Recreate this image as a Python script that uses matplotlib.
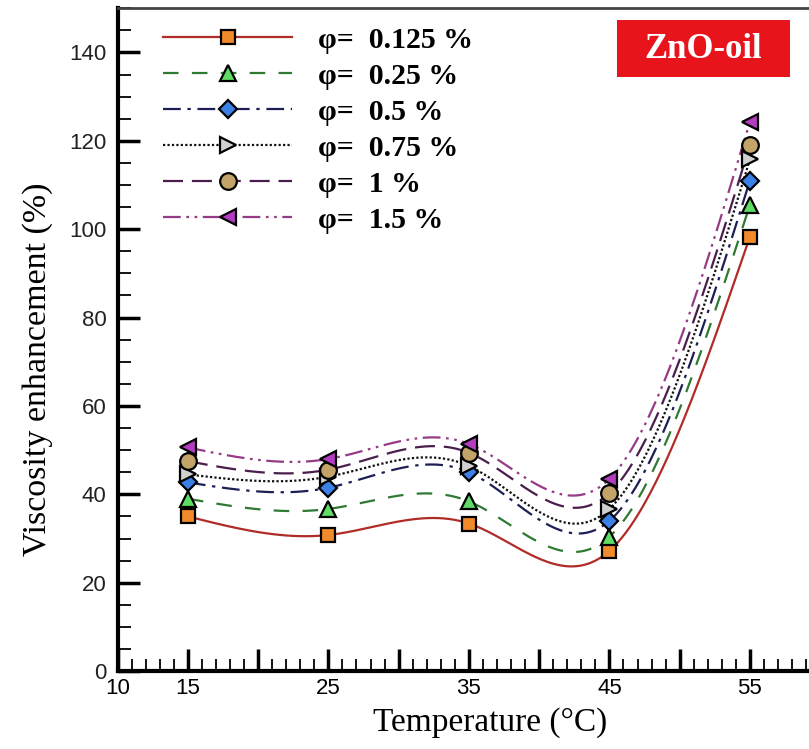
import matplotlib
matplotlib.use("Agg")
import matplotlib.pyplot as plt
from matplotlib.ticker import MultipleLocator
from matplotlib.patches import Rectangle
import matplotlib.transforms as mtransforms
import numpy as np

# data
temperature = [15, 25, 35, 45, 55]
phi_0125 = [35.0, 30.8, 33.4, 27.2, 98.3]
phi_025 = [39.0, 36.7, 38.4, 30.4, 105.5]
phi_05 = [42.7, 41.5, 45.0, 34.0, 111.0]
phi_075 = [44.5, 44.0, 46.4, 36.7, 115.8]
phi_1 = [47.5, 45.6, 49.4, 40.3, 119.0]
phi_15 = [50.6, 48.0, 51.4, 43.5, 124.3]
labels = ["0.125", "0.25", "0.5", "0.75", "1", "1.5"]


def natural_spline(x, y, n=300):
    """Natural cubic spline through the points (smooth curve like the original)."""
    x = np.asarray(x, float)
    y = np.asarray(y, float)
    k = len(x)
    h = np.diff(x)
    A = np.zeros((k, k))
    b = np.zeros(k)
    A[0, 0] = A[-1, -1] = 1
    for i in range(1, k - 1):
        A[i, i - 1] = h[i - 1]
        A[i, i] = 2 * (h[i - 1] + h[i])
        A[i, i + 1] = h[i]
        b[i] = 6 * ((y[i + 1] - y[i]) / h[i] - (y[i] - y[i - 1]) / h[i - 1])
    M = np.linalg.solve(A, b)
    xs = np.linspace(x[0], x[-1], n)
    idx = np.clip(np.searchsorted(x, xs) - 1, 0, k - 2)
    x0, x1 = x[idx], x[idx + 1]
    hh = x1 - x0
    ys = (M[idx] * (x1 - xs) ** 3 / (6 * hh) + M[idx + 1] * (xs - x0) ** 3 / (6 * hh)
          + (y[idx] / hh - M[idx] * hh / 6) * (x1 - xs)
          + (y[idx + 1] / hh - M[idx + 1] * hh / 6) * (xs - x0))
    return xs, ys


series = [phi_0125, phi_025, phi_05, phi_075, phi_1, phi_15]
line_colors = ["#b02c28", "#2e7a32", "#1c1f55", "#111111", "#4a1e4c", "#963a86"]
face_colors = ["#f08a2a", "#5fdc64", "#3a80e6", "#d0d0d0", "#c2a468", "#b33cc0"]
markers = ["s", "^", "D", ">", "o", "<"]
msizes = [10, 11, 9, 11, 12, 11]
dashes = [(None, None), (7, 6), (8, 3, 1.5, 3), (1, 1), (9, 4), (8, 2.5, 1.2, 2.5, 1.2, 2.5)]

fig = plt.figure(figsize=(8.09, 7.49), dpi=100)
ax = fig.add_axes([0.1454, 0.104, 0.8684, 0.885])

for vals, lc, fc, mk, ms, ds, lab in zip(series, line_colors, face_colors, markers,
                                         msizes, dashes, labels):
    xs, ys = natural_spline(temperature, vals)
    ln, = ax.plot(xs, ys, color=lc, lw=1.6)
    if ds[0] is not None:
        ln.set_dashes(ds)
    ax.plot(temperature, vals, linestyle="none", marker=mk, ms=ms,
            mfc=fc, mec="black", mew=1.6, zorder=5)
    # proxy for the legend
    h, = ax.plot([], [], color=lc, lw=1.6, marker=mk, ms=ms, mfc=fc,
                 mec="black", mew=1.6, label="φ=  " + lab + " %")
    if ds[0] is not None:
        h.set_dashes(ds)

ax.set_xlim(10, 60)
ax.set_ylim(0, 150)

ax.xaxis.set_minor_locator(MultipleLocator(1))
ax.yaxis.set_major_locator(MultipleLocator(20))
ax.yaxis.set_minor_locator(MultipleLocator(5))
xt = np.arange(10, 61, 5)
ax.set_xticks(xt)
ax.set_xticklabels(["10", "15", "", "25", "", "35", "", "45", "", "55", ""])

ax.tick_params(which="major", direction="in", length=16, width=2.5,
               top=False, right=False)
ax.tick_params(which="minor", direction="in", length=9, width=1.3,
               top=False, right=False)
ax.tick_params(axis="x", which="major", labelsize=16, pad=5)
ax.tick_params(axis="y", which="major", labelsize=16, pad=8)
for t in ax.get_xticklabels():
    t.set_family(["Liberation Sans Narrow", "Liberation Sans", "DejaVu Sans"])
for t in ax.get_yticklabels():
    t.set_family(["Liberation Sans", "DejaVu Sans"])
    t.set_color("#222222")
# the "0" sits a bit higher than its tick, as in the original
ylabs = ax.get_yticklabels()
ylabs[0].set_transform(ylabs[0].get_transform()
                       + mtransforms.ScaledTranslation(0.04, 0.09, fig.dpi_scale_trans))

for s in ["left", "bottom"]:
    ax.spines[s].set_linewidth(3)
ax.spines["top"].set_linewidth(2)
ax.spines["top"].set_color("#444444")
ax.spines["right"].set_visible(False)

ax.set_xlabel("Temperature (°C)", family="Liberation Serif", fontsize=24)
ax.set_ylabel("Viscosity enhancement (%)", family="Liberation Serif", fontsize=24.5)
ax.xaxis.set_label_coords(0.53, -0.054)
ax.yaxis.set_label_coords(-0.092, 0.455)

leg = ax.legend(loc="upper left", bbox_to_anchor=(0.047, 0.99), frameon=False,
                numpoints=1, handlelength=4.35, handletextpad=0.85, labelspacing=0.3,
                prop={"family": "Liberation Serif", "size": 21.5, "weight": "bold"},
                borderaxespad=0.0, borderpad=0.4)

fig.patches.append(Rectangle((617 / 809, 1 - 77 / 749), 173 / 809, 57 / 749,
                             transform=fig.transFigure, fc="#e8141c", ec="none",
                             zorder=10))
fig.text(703 / 809, 1 - 49 / 749, "ZnO-oil", color="white", fontsize=25,
         fontweight="bold", family="Liberation Serif", ha="center", va="center",
         zorder=11)

fig.savefig("out.png", dpi=100)
